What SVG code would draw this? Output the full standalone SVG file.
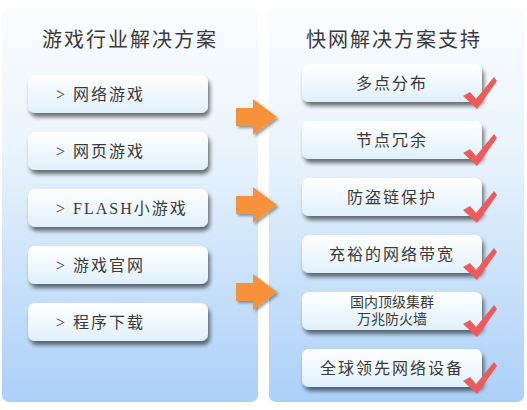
<svg xmlns="http://www.w3.org/2000/svg" width="527" height="410" viewBox="0 0 527 410">
<defs>
<linearGradient id="pg" x1="0" y1="0" x2="0" y2="1">
<stop offset="0" stop-color="#fbfcfe"/>
<stop offset="0.35" stop-color="#eaf4fc"/>
<stop offset="1" stop-color="#abd0f8"/>
</linearGradient>
<linearGradient id="bg" x1="0" y1="0" x2="0" y2="1">
<stop offset="0" stop-color="#ffffff"/>
<stop offset="0.5" stop-color="#f0f8fd"/>
<stop offset="1" stop-color="#dff0fb"/>
</linearGradient>
<filter id="sh" x="-10%" y="-20%" width="125%" height="160%">
<feGaussianBlur in="SourceAlpha" stdDeviation="2.2"/>
<feOffset dx="2" dy="4" result="b"/>
<feComponentTransfer><feFuncA type="linear" slope="0.55"/></feComponentTransfer>
<feMerge><feMergeNode/><feMergeNode in="SourceGraphic"/></feMerge>
</filter>
<filter id="ash" x="-20%" y="-20%" width="150%" height="150%">
<feGaussianBlur in="SourceAlpha" stdDeviation="1.5"/>
<feOffset dx="2" dy="2"/>
<feComponentTransfer><feFuncA type="linear" slope="0.4"/></feComponentTransfer>
<feMerge><feMergeNode/><feMergeNode in="SourceGraphic"/></feMerge>
</filter>
<symbol id="chk" viewBox="0 0 34 32" overflow="visible">
<path d="M0 19 L7 15 L13 22 L31 0 L34 4 L14 32 Z" fill="#f05a5a"/>
</symbol>
<path id="arr" d="M0 -9 L17 -9 L17 -18 L41 0 L17 18 L17 9 L0 9 Z" fill="#f7923a"/>
</defs>
<style>
.t{font-family:"Liberation Serif","Noto Sans CJK SC",serif;fill:#3a3a3a;}
.h{font-size:20px;letter-spacing:2px;}
.b{font-size:16px;letter-spacing:2px;}
.s{font-size:14px;}
.btn{fill:url(#bg);filter:url(#sh);}
</style>
<rect width="527" height="410" fill="#ffffff"/>
<g id="left-panel">
<rect x="2" y="8" width="256" height="394" rx="7" fill="url(#pg)"/>
<text class="t h" x="130" y="47" text-anchor="middle">游戏行业解决方案</text>
</g>
<g id="right-panel">
<rect x="269" y="8" width="255" height="394" rx="7" fill="url(#pg)"/>
<text class="t h" x="394" y="47" text-anchor="middle">快网解决方案支持</text>
</g>
<g id="l1"><rect class="btn" x="28" y="75" width="180" height="38" rx="7"/><text class="t b" x="56" y="100">&gt; 网络游戏</text></g>
<g id="l2"><rect class="btn" x="28" y="132" width="180" height="38" rx="7"/><text class="t b" x="56" y="157">&gt; 网页游戏</text></g>
<g id="l3"><rect class="btn" x="28" y="189" width="180" height="38" rx="7"/><text class="t b" x="56" y="214">&gt; FLASH小游戏</text></g>
<g id="l4"><rect class="btn" x="28" y="246" width="180" height="38" rx="7"/><text class="t b" x="56" y="271">&gt; 游戏官网</text></g>
<g id="l5"><rect class="btn" x="28" y="303" width="180" height="38" rx="7"/><text class="t b" x="56" y="328">&gt; 程序下载</text></g>
<g id="r1"><rect class="btn" x="302" y="64" width="180" height="38" rx="7"/><text class="t b" x="392" y="89" text-anchor="middle">多点分布</text><use href="#chk" x="463" y="77" width="34" height="32"/></g>
<g id="r2"><rect class="btn" x="302" y="121" width="180" height="38" rx="7"/><text class="t b" x="392" y="146" text-anchor="middle">节点冗余</text><use href="#chk" x="463" y="134" width="34" height="32"/></g>
<g id="r3"><rect class="btn" x="302" y="178" width="180" height="38" rx="7"/><text class="t b" x="392" y="203" text-anchor="middle">防盗链保护</text><use href="#chk" x="463" y="191" width="34" height="32"/></g>
<g id="r4"><rect class="btn" x="302" y="235" width="180" height="38" rx="7"/><text class="t b" x="392" y="260" text-anchor="middle">充裕的网络带宽</text><use href="#chk" x="463" y="248" width="34" height="32"/></g>
<g id="r5"><rect class="btn" x="302" y="292" width="180" height="38" rx="7"/><text class="t s" x="392" y="307" text-anchor="middle">国内顶级集群</text><text class="t s" x="392" y="324" text-anchor="middle">万兆防火墙</text><use href="#chk" x="463" y="305" width="34" height="32"/></g>
<g id="r6"><rect class="btn" x="302" y="349" width="180" height="38" rx="7"/><text class="t b" x="392" y="374" text-anchor="middle">全球领先网络设备</text><use href="#chk" x="463" y="362" width="34" height="32"/></g>
<g id="connectors" filter="url(#ash)">
<use href="#arr" x="236" y="117"/>
<use href="#arr" x="236" y="205"/>
<use href="#arr" x="236" y="292"/>
</g>
</svg>
